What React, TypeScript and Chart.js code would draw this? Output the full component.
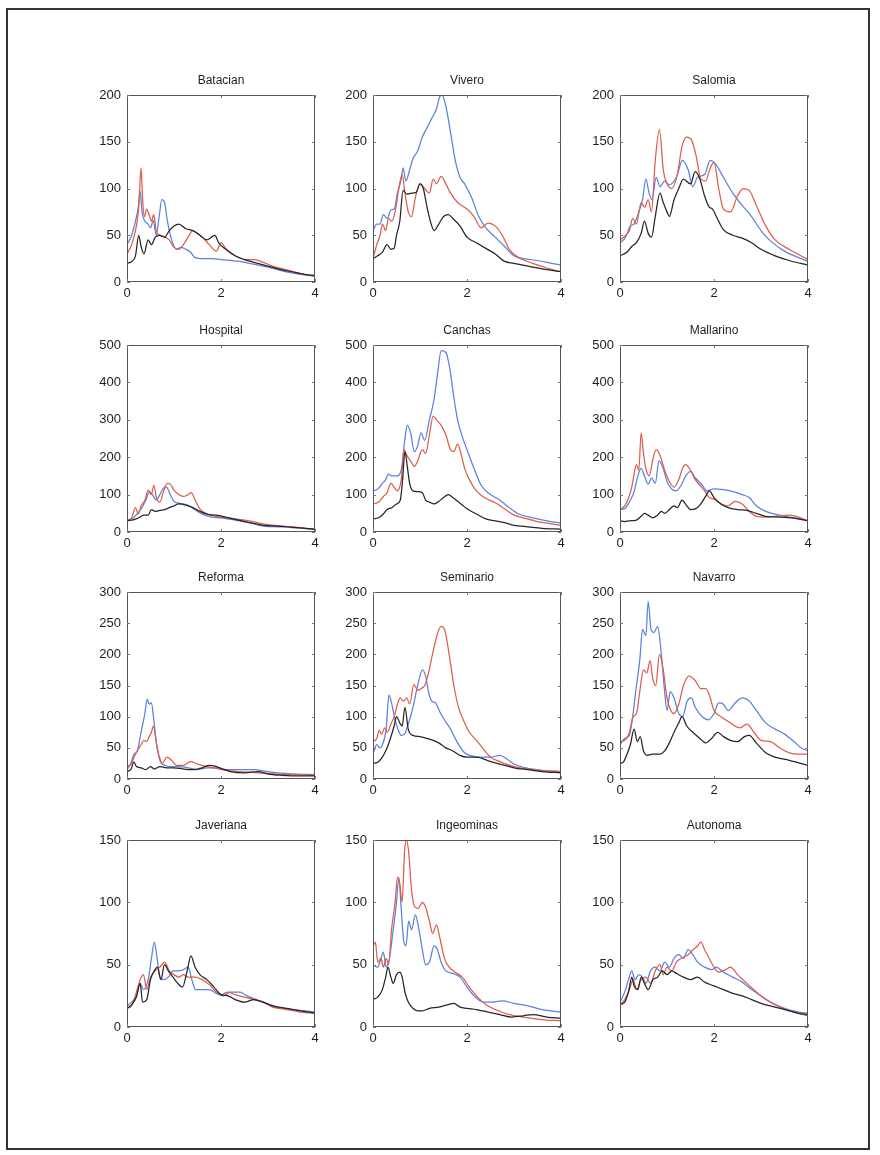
import React, { useEffect, useRef } from "react";
import { Chart, registerables } from "chart.js";
Chart.register(...registerables);

type Pt = [number, number];

const titles = ["Batacian", "Vivero", "Salomia", "Hospital", "Canchas", "Mallarino", "Reforma", "Seminario", "Navarro", "Javeriana", "Ingeominas", "Autonoma"];
const yMaxes = [200, 200, 200, 500, 500, 500, 300, 300, 300, 150, 150, 150];
const ySteps = [50, 50, 50, 100, 100, 100, 50, 50, 50, 50, 50, 50];
const xMin = 0;
const xMax = 4;
const xStep = 2;

// Batacian
const batacianBlack: Pt[] = [[0,20],[0.1,22],[0.18,28],[0.25,50],[0.3,38],[0.36,30],[0.45,45],[0.52,40],[0.6,48],[0.7,50],[0.8,48],[0.9,55],[1.0,60],[1.1,62],[1.25,57],[1.4,55],[1.55,50],[1.7,45],[1.8,48],[1.87,50],[1.95,42],[2.1,35],[2.3,28],[2.5,24],[2.7,21],[3.0,17],[3.3,13],[3.6,10],[3.8,8],[4,7]];
const batacianRed: Pt[] = [[0,30],[0.1,40],[0.2,60],[0.25,80],[0.3,122],[0.33,90],[0.37,70],[0.42,78],[0.47,72],[0.52,65],[0.57,72],[0.62,55],[0.7,50],[0.8,48],[0.9,45],[1.0,37],[1.1,35],[1.2,40],[1.3,48],[1.4,55],[1.5,52],[1.6,48],[1.75,40],[1.9,33],[2.0,42],[2.1,36],[2.3,28],[2.5,24],[2.7,24],[2.85,22],[3.1,17],[3.4,13],[3.7,9],[4,6]];
const batacianBlue: Pt[] = [[0,40],[0.1,50],[0.18,65],[0.24,80],[0.28,97],[0.32,75],[0.38,65],[0.45,62],[0.5,58],[0.56,66],[0.62,50],[0.68,68],[0.74,88],[0.8,85],[0.86,65],[0.95,45],[1.05,35],[1.15,37],[1.25,35],[1.35,32],[1.45,26],[1.6,25],[1.8,25],[2.0,24],[2.2,23],[2.4,22],[2.6,20],[2.8,18],[3.0,16],[3.3,12],[3.6,9],[4,6]];

// Vivero
const viveroBlack: Pt[] = [[0,25],[0.1,28],[0.2,32],[0.3,40],[0.38,35],[0.45,36],[0.5,50],[0.57,65],[0.64,98],[0.72,94],[0.82,95],[0.92,96],[1.0,105],[1.07,100],[1.15,80],[1.22,65],[1.3,55],[1.4,62],[1.5,70],[1.6,72],[1.7,68],[1.85,60],[2.0,48],[2.2,42],[2.4,36],[2.6,30],[2.8,22],[3.0,20],[3.3,17],[3.6,14],[4,11]];
const viveroRed: Pt[] = [[0,25],[0.08,40],[0.15,50],[0.2,62],[0.27,55],[0.33,68],[0.4,65],[0.47,75],[0.55,100],[0.62,115],[0.68,95],[0.75,75],[0.82,70],[0.9,90],[1.0,105],[1.1,100],[1.2,95],[1.28,110],[1.35,105],[1.45,113],[1.55,105],[1.65,95],[1.8,85],[2.0,78],[2.15,70],[2.3,58],[2.45,63],[2.6,60],[2.75,50],[2.9,35],[3.1,26],[3.4,20],[3.7,15],[4,11]];
const viveroBlue: Pt[] = [[0,55],[0.08,62],[0.15,62],[0.22,72],[0.3,68],[0.38,77],[0.45,78],[0.52,95],[0.6,110],[0.64,122],[0.7,108],[0.78,120],[0.85,132],[0.95,140],[1.05,155],[1.15,165],[1.25,175],[1.35,185],[1.42,198],[1.47,200],[1.55,188],[1.65,160],[1.75,130],[1.85,112],[1.95,105],[2.1,90],[2.25,70],[2.4,58],[2.6,48],[2.8,38],[3.0,28],[3.2,25],[3.5,23],[3.8,20],[4,18]];

// Salomia
const salomiaBlack: Pt[] = [[0,28],[0.15,32],[0.25,38],[0.35,42],[0.45,52],[0.52,65],[0.6,52],[0.67,48],[0.75,70],[0.85,95],[0.92,85],[1.0,75],[1.05,70],[1.15,88],[1.25,100],[1.35,110],[1.5,105],[1.6,118],[1.7,110],[1.8,92],[1.9,80],[1.97,78],[2.05,70],[2.2,56],[2.4,50],[2.6,47],[2.8,42],[3.0,35],[3.3,28],[3.6,23],[4,18]];
const salomiaRed: Pt[] = [[0,45],[0.12,50],[0.2,55],[0.27,68],[0.35,62],[0.45,85],[0.52,80],[0.6,88],[0.67,75],[0.75,130],[0.84,163],[0.92,120],[1.0,105],[1.1,100],[1.22,115],[1.32,145],[1.42,155],[1.52,152],[1.62,135],[1.72,110],[1.82,108],[1.92,122],[2.0,128],[2.1,100],[2.2,78],[2.35,75],[2.5,92],[2.62,100],[2.75,98],[2.9,82],[3.1,60],[3.3,45],[3.6,35],[4,24]];
const salomiaBlue: Pt[] = [[0,42],[0.12,48],[0.22,60],[0.3,62],[0.4,75],[0.48,88],[0.55,110],[0.62,95],[0.68,88],[0.77,112],[0.85,102],[0.95,108],[1.05,104],[1.2,112],[1.33,130],[1.45,120],[1.55,102],[1.65,112],[1.8,115],[1.92,130],[2.05,125],[2.2,112],[2.4,95],[2.6,82],[2.8,70],[3.0,55],[3.2,44],[3.5,33],[3.8,26],[4,22]];

// Hospital
const hospitalBlack: Pt[] = [[0,30],[0.15,33],[0.25,38],[0.35,45],[0.45,45],[0.52,60],[0.6,55],[0.7,58],[0.8,60],[0.9,65],[1.0,70],[1.1,75],[1.25,72],[1.4,65],[1.55,55],[1.7,48],[1.9,45],[2.1,40],[2.3,34],[2.6,25],[2.9,18],[3.2,16],[3.5,13],[3.8,10],[4,8]];
const hospitalRed: Pt[] = [[0,30],[0.1,38],[0.18,65],[0.24,48],[0.3,70],[0.38,85],[0.45,112],[0.52,100],[0.57,125],[0.63,90],[0.7,80],[0.78,110],[0.86,130],[0.92,128],[1.0,112],[1.1,100],[1.2,95],[1.3,100],[1.37,105],[1.45,85],[1.55,62],[1.7,48],[1.9,42],[2.1,38],[2.3,35],[2.6,30],[2.9,22],[3.2,17],[3.5,14],[3.8,10],[4,7]];
const hospitalBlue: Pt[] = [[0,32],[0.12,36],[0.22,50],[0.3,62],[0.4,85],[0.48,108],[0.55,98],[0.62,85],[0.7,100],[0.78,118],[0.84,120],[0.92,100],[1.0,82],[1.1,77],[1.2,75],[1.35,68],[1.5,55],[1.65,45],[1.8,40],[2.0,38],[2.3,32],[2.6,25],[2.9,16],[3.2,14],[3.5,12],[3.8,9],[4,7]];

// Canchas
const canchasBlack: Pt[] = [[0,35],[0.12,38],[0.22,48],[0.3,60],[0.4,65],[0.5,75],[0.58,85],[0.63,140],[0.68,215],[0.73,175],[0.78,130],[0.85,110],[0.95,108],[1.05,105],[1.12,85],[1.2,80],[1.3,75],[1.4,82],[1.5,92],[1.6,100],[1.7,92],[1.8,82],[1.9,72],[2.0,62],[2.2,48],[2.4,35],[2.6,30],[2.8,25],[3.0,18],[3.3,14],[3.6,10],[4,8]];
const canchasRed: Pt[] = [[0,75],[0.12,80],[0.22,95],[0.3,105],[0.38,130],[0.45,120],[0.52,110],[0.6,140],[0.66,220],[0.72,205],[0.8,190],[0.88,175],[0.95,190],[1.05,220],[1.12,210],[1.2,260],[1.28,310],[1.35,300],[1.45,285],[1.55,260],[1.65,220],[1.72,215],[1.8,235],[1.88,205],[1.95,170],[2.05,140],[2.2,110],[2.4,90],[2.6,78],[2.8,62],[3.0,45],[3.2,38],[3.5,28],[3.8,22],[4,18]];
const canchasBlue: Pt[] = [[0,110],[0.1,115],[0.2,130],[0.27,140],[0.33,155],[0.4,150],[0.5,150],[0.6,165],[0.67,240],[0.73,285],[0.8,265],[0.88,215],[0.95,230],[1.02,265],[1.1,245],[1.2,300],[1.3,355],[1.38,430],[1.45,485],[1.55,480],[1.63,440],[1.72,360],[1.8,300],[1.9,255],[2.0,220],[2.15,170],[2.3,125],[2.5,100],[2.7,85],[2.9,65],[3.1,48],[3.4,38],[3.7,30],[4,24]];

// Mallarino
const mallarinoBlack: Pt[] = [[0,30],[0.1,28],[0.2,30],[0.35,32],[0.45,42],[0.52,50],[0.6,45],[0.7,38],[0.8,45],[0.88,55],[0.95,50],[1.05,60],[1.15,70],[1.22,65],[1.32,85],[1.42,70],[1.5,60],[1.6,62],[1.7,72],[1.82,95],[1.9,110],[2.0,92],[2.15,75],[2.3,65],[2.5,60],[2.7,58],[2.9,50],[3.1,42],[3.4,40],[3.7,37],[4,30]];
const mallarinoRed: Pt[] = [[0,60],[0.1,70],[0.18,90],[0.25,120],[0.3,155],[0.35,180],[0.4,165],[0.45,265],[0.5,210],[0.55,170],[0.62,150],[0.7,195],[0.77,220],[0.85,205],[0.95,165],[1.05,135],[1.15,120],[1.25,140],[1.33,170],[1.4,180],[1.5,165],[1.6,140],[1.7,125],[1.8,110],[1.9,92],[2.0,88],[2.15,75],[2.3,70],[2.45,82],[2.6,75],[2.75,55],[2.9,42],[3.1,40],[3.3,42],[3.6,45],[3.8,40],[4,30]];
const mallarinoBlue: Pt[] = [[0,60],[0.1,63],[0.2,80],[0.3,108],[0.38,150],[0.45,170],[0.52,150],[0.6,128],[0.67,145],[0.75,130],[0.83,190],[0.92,170],[1.0,135],[1.1,115],[1.2,110],[1.3,125],[1.4,150],[1.5,162],[1.6,145],[1.75,125],[1.85,110],[2.0,115],[2.2,113],[2.4,108],[2.6,100],[2.75,92],[2.9,70],[3.1,55],[3.3,48],[3.6,40],[3.8,36],[4,30]];

// Reforma
const reformaBlack: Pt[] = [[0,12],[0.08,15],[0.15,27],[0.2,20],[0.3,18],[0.4,15],[0.5,20],[0.58,16],[0.7,20],[0.85,18],[1.0,18],[1.2,16],[1.4,15],[1.6,18],[1.75,22],[1.85,21],[2.0,17],[2.2,12],[2.5,10],[2.8,12],[3.0,8],[3.3,6],[3.7,5],[4,5]];
const reformaRed: Pt[] = [[0,20],[0.1,25],[0.15,35],[0.22,45],[0.3,55],[0.36,62],[0.42,60],[0.47,68],[0.52,75],[0.56,85],[0.62,60],[0.68,38],[0.75,25],[0.85,35],[0.95,30],[1.05,22],[1.2,22],[1.35,28],[1.5,24],[1.7,20],[1.9,17],[2.1,14],[2.4,12],[2.8,10],[3.2,8],[3.6,7],[4,6]];
const reformaBlue: Pt[] = [[0,15],[0.08,25],[0.15,40],[0.22,45],[0.3,75],[0.38,105],[0.43,128],[0.47,120],[0.52,122],[0.57,95],[0.63,55],[0.7,30],[0.8,22],[0.95,20],[1.1,20],[1.3,18],[1.5,15],[1.7,18],[1.9,18],[2.1,15],[2.4,15],[2.7,15],[2.9,13],[3.2,10],[3.6,8],[4,7]];

// Seminario
const seminarioBlack: Pt[] = [[0,25],[0.1,27],[0.2,35],[0.3,50],[0.37,65],[0.45,85],[0.5,100],[0.57,90],[0.62,85],[0.68,115],[0.75,80],[0.85,70],[1.0,68],[1.2,64],[1.4,58],[1.55,50],[1.7,45],[1.85,38],[2.0,35],[2.2,35],[2.5,28],[2.8,22],[3.0,18],[3.3,15],[3.6,12],[4,10]];
const seminarioRed: Pt[] = [[0,60],[0.08,65],[0.13,78],[0.18,72],[0.25,82],[0.3,75],[0.38,88],[0.45,100],[0.52,120],[0.58,130],[0.65,125],[0.72,130],[0.78,120],[0.87,152],[0.95,142],[1.02,145],[1.1,150],[1.18,170],[1.28,205],[1.38,235],[1.45,245],[1.53,238],[1.62,200],[1.72,150],[1.82,115],[1.92,95],[2.05,75],[2.2,62],[2.35,48],[2.5,35],[2.7,28],[3.0,20],[3.3,16],[3.7,13],[4,12]];
const seminarioBlue: Pt[] = [[0,40],[0.08,55],[0.15,50],[0.2,55],[0.28,80],[0.34,135],[0.4,120],[0.47,95],[0.53,80],[0.6,70],[0.67,72],[0.75,88],[0.85,115],[0.95,150],[1.05,175],[1.12,165],[1.18,140],[1.25,125],[1.33,122],[1.42,108],[1.52,95],[1.65,80],[1.8,58],[1.95,42],[2.1,37],[2.3,35],[2.5,35],[2.7,38],[2.85,32],[3.0,24],[3.3,17],[3.6,14],[4,12]];

// Navarro
const navarroBlack: Pt[] = [[0,25],[0.08,28],[0.15,40],[0.22,55],[0.3,80],[0.37,60],[0.43,68],[0.5,45],[0.58,38],[0.7,40],[0.85,40],[0.95,45],[1.05,58],[1.15,75],[1.25,90],[1.32,100],[1.42,85],[1.55,75],[1.7,65],[1.82,58],[1.95,65],[2.08,75],[2.2,68],[2.35,62],[2.5,60],[2.65,68],[2.75,70],[2.9,58],[3.1,42],[3.3,35],[3.6,30],[3.8,26],[4,22]];
const navarroRed: Pt[] = [[0,60],[0.1,62],[0.2,75],[0.28,100],[0.35,105],[0.42,140],[0.5,175],[0.57,170],[0.64,190],[0.7,160],[0.76,150],[0.84,200],[0.92,175],[1.0,130],[1.08,110],[1.15,105],[1.25,120],[1.35,150],[1.47,165],[1.6,158],[1.72,145],[1.82,145],[1.9,135],[2.0,110],[2.15,100],[2.35,90],[2.55,82],[2.7,88],[2.85,75],[3.0,62],[3.2,60],[3.4,50],[3.6,42],[3.8,40],[4,40]];
const navarroBlue: Pt[] = [[0,55],[0.1,65],[0.2,70],[0.27,100],[0.35,150],[0.42,190],[0.48,240],[0.55,230],[0.6,285],[0.66,240],[0.72,235],[0.8,245],[0.88,200],[0.95,140],[1.0,110],[1.07,140],[1.15,130],[1.25,105],[1.33,100],[1.43,125],[1.52,130],[1.6,115],[1.75,100],[1.88,95],[2.0,105],[2.1,122],[2.2,120],[2.3,110],[2.45,122],[2.6,130],[2.75,125],[2.9,110],[3.1,90],[3.3,80],[3.5,72],[3.7,60],[3.85,50],[4,45]];

// Javeriana
const javerianaBlack: Pt[] = [[0,15],[0.1,18],[0.2,24],[0.28,35],[0.33,20],[0.42,22],[0.5,38],[0.58,45],[0.65,48],[0.72,38],[0.8,50],[0.88,45],[0.98,40],[1.08,35],[1.18,32],[1.28,45],[1.36,57],[1.45,48],[1.55,42],[1.7,38],[1.85,32],[2.0,26],[2.15,25],[2.3,22],[2.5,20],[2.7,22],[2.9,20],[3.1,17],[3.4,15],[3.7,13],[4,11]];
const javerianaRed: Pt[] = [[0,15],[0.1,17],[0.2,28],[0.28,38],[0.35,42],[0.42,30],[0.5,40],[0.6,45],[0.7,48],[0.8,52],[0.9,45],[1.0,42],[1.1,40],[1.2,42],[1.3,40],[1.45,40],[1.6,38],[1.75,34],[1.9,28],[2.0,26],[2.15,28],[2.3,26],[2.5,24],[2.7,22],[2.9,20],[3.1,16],[3.4,14],[3.7,12],[4,11]];
const javerianaBlue: Pt[] = [[0,17],[0.1,20],[0.2,25],[0.28,35],[0.35,30],[0.45,38],[0.52,55],[0.58,68],[0.63,58],[0.7,40],[0.78,38],[0.88,40],[0.98,45],[1.08,45],[1.2,46],[1.3,48],[1.38,38],[1.46,30],[1.58,30],[1.75,30],[1.9,27],[2.05,25],[2.2,28],[2.4,28],[2.55,25],[2.75,22],[2.95,19],[3.2,16],[3.5,14],[3.8,13],[4,12]];

// Ingeominas
const ingeominasBlack: Pt[] = [[0,22],[0.1,24],[0.2,30],[0.27,40],[0.32,48],[0.38,40],[0.43,35],[0.5,42],[0.57,44],[0.62,40],[0.68,28],[0.75,20],[0.85,15],[0.95,13],[1.05,13],[1.2,15],[1.4,16],[1.6,18],[1.72,19],[1.85,16],[2.0,15],[2.2,14],[2.45,12],[2.7,10],[2.95,8],[3.2,9],[3.4,10],[3.7,8],[4,7]];
const ingeominasRed: Pt[] = [[0,65],[0.05,68],[0.1,52],[0.17,55],[0.22,48],[0.28,55],[0.33,50],[0.4,80],[0.47,100],[0.52,120],[0.57,115],[0.62,100],[0.67,140],[0.71,150],[0.76,140],[0.82,110],[0.88,97],[0.96,95],[1.05,100],[1.12,96],[1.2,85],[1.27,75],[1.35,82],[1.42,72],[1.52,55],[1.62,48],[1.75,44],[1.9,40],[2.05,32],[2.2,25],[2.4,18],[2.6,14],[2.9,10],[3.2,8],[3.6,6],[4,5]];
const ingeominasBlue: Pt[] = [[0,50],[0.1,48],[0.17,55],[0.22,60],[0.28,48],[0.35,55],[0.42,75],[0.5,100],[0.55,120],[0.6,95],[0.65,70],[0.7,65],[0.76,85],[0.82,78],[0.9,90],[0.97,80],[1.05,62],[1.12,50],[1.2,52],[1.3,65],[1.37,62],[1.45,52],[1.55,45],[1.7,43],[1.85,40],[2.0,32],[2.15,25],[2.35,20],[2.55,20],[2.75,21],[3.0,19],[3.3,17],[3.6,14],[4,12]];

// Autonoma
const autonomaBlack: Pt[] = [[0,18],[0.1,20],[0.18,28],[0.25,40],[0.3,33],[0.38,30],[0.45,40],[0.52,35],[0.6,30],[0.7,38],[0.8,40],[0.9,45],[1.0,42],[1.1,45],[1.2,43],[1.35,40],[1.5,38],[1.65,40],[1.8,36],[2.0,33],[2.2,30],[2.4,27],[2.6,25],[2.8,22],[3.0,19],[3.3,16],[3.6,13],[3.8,11],[4,10]];
const autonomaRed: Pt[] = [[0,18],[0.1,22],[0.2,30],[0.28,38],[0.35,30],[0.45,38],[0.55,40],[0.65,35],[0.75,45],[0.85,50],[0.92,42],[1.0,48],[1.1,45],[1.2,52],[1.3,55],[1.45,58],[1.55,62],[1.65,65],[1.72,68],[1.8,62],[1.9,55],[2.0,48],[2.1,44],[2.25,46],[2.35,48],[2.5,42],[2.7,35],[2.9,28],[3.1,22],[3.4,16],[3.7,12],[4,9]];
const autonomaBlue: Pt[] = [[0,20],[0.1,28],[0.18,38],[0.25,45],[0.32,38],[0.4,42],[0.48,40],[0.55,35],[0.65,45],[0.75,48],[0.85,45],[0.95,52],[1.05,48],[1.15,55],[1.25,58],[1.35,55],[1.45,62],[1.55,58],[1.65,52],[1.8,48],[1.95,46],[2.05,48],[2.2,44],[2.4,40],[2.6,36],[2.8,30],[3.0,25],[3.2,20],[3.5,15],[3.8,12],[4,11]];

const blackSeries = [batacianBlack, viveroBlack, salomiaBlack, hospitalBlack, canchasBlack, mallarinoBlack, reformaBlack, seminarioBlack, navarroBlack, javerianaBlack, ingeominasBlack, autonomaBlack];
const redSeries = [batacianRed, viveroRed, salomiaRed, hospitalRed, canchasRed, mallarinoRed, reformaRed, seminarioRed, navarroRed, javerianaRed, ingeominasRed, autonomaRed];
const blueSeries = [batacianBlue, viveroBlue, salomiaBlue, hospitalBlue, canchasBlue, mallarinoBlue, reformaBlue, seminarioBlue, navarroBlue, javerianaBlue, ingeominasBlue, autonomaBlue];

const COL_LEFT = [127, 373, 620];
const ROW_TOP = [95, 345, 592, 840];
const PLOT_W = 188;
const PLOT_H = 187;
const AXIS_W = 42;
const TITLE_H = 24;
const XAXIS_H = 24;
const RIGHT_PAD = 14;
const CW = AXIS_W + PLOT_W + RIGHT_PAD;
const CH = TITLE_H + PLOT_H + XAXIS_H;

const FONT = "'Liberation Sans', Arial, Helvetica, sans-serif";
const TEXT = "#1e1e1e";
const C_BLACK = "#262626";
const C_RED = "#de5d4b";
const C_BLUE = "#5a82de";

const framePlugin = {
  id: "frameBox",
  afterDatasetsDraw(chart: any) {
    const { ctx, chartArea } = chart;
    const { left, top, right, bottom } = chartArea;
    const xs = chart.scales.x;
    const ys = chart.scales.y;
    ctx.save();
    ctx.strokeStyle = "#555";
    ctx.lineWidth = 1;
    ctx.strokeRect(Math.round(left) + 0.5, Math.round(top) + 0.5, Math.round(right - left) - 1, Math.round(bottom - top) - 1);
    ctx.strokeStyle = "#777";
    ctx.beginPath();
    const tl = 3;
    xs.ticks.forEach((t: any) => {
      const px = Math.round(xs.getPixelForValue(t.value)) + 0.5;
      ctx.moveTo(px, bottom); ctx.lineTo(px, bottom - tl);
      ctx.moveTo(px, top); ctx.lineTo(px, top + tl);
    });
    ys.ticks.forEach((t: any) => {
      const py = Math.round(ys.getPixelForValue(t.value)) + 0.5;
      ctx.moveTo(left, py); ctx.lineTo(left + tl, py);
      ctx.moveTo(right, py); ctx.lineTo(right - tl, py);
    });
    ctx.stroke();
    ctx.restore();
  },
};

const toXY = (s: Pt[]) => s.map(([x, y]) => ({ x, y }));

function Panel({ idx }: { idx: number }) {
  const ref = useRef<HTMLCanvasElement>(null);
  const col = idx % 3;
  const row = Math.floor(idx / 3);
  const left = COL_LEFT[col] - AXIS_W;
  const top = ROW_TOP[row] - TITLE_H;
  useEffect(() => {
    const mk = (data: Pt[], color: string) => ({
      data: toXY(data),
      borderColor: color,
      backgroundColor: color,
      borderWidth: 1.25,
      pointRadius: 0,
      fill: false,
      tension: 0,
      cubicInterpolationMode: "monotone" as const,
    });
    const chart = new Chart(ref.current as HTMLCanvasElement, {
      type: "line",
      data: {
        datasets: [
          mk(blackSeries[idx], C_BLACK),
          mk(redSeries[idx], C_RED),
          mk(blueSeries[idx], C_BLUE),
        ],
      },
      options: {
        responsive: false,
        animation: false,
        devicePixelRatio: 1,
        layout: { padding: { top: 0, right: RIGHT_PAD, bottom: 0, left: 0 } },
        plugins: {
          legend: { display: false },
          tooltip: { enabled: false },
          title: {
            display: true,
            fullSize: false,
            text: titles[idx],
            color: TEXT,
            font: { family: FONT, size: 12, weight: "normal", lineHeight: 1 },
            padding: { top: 4, bottom: 8 },
          },
        },
        scales: {
          x: {
            type: "linear",
            min: xMin,
            max: xMax,
            ticks: { stepSize: xStep, color: TEXT, font: { family: FONT, size: 13 }, padding: 4, maxRotation: 0, autoSkip: false },
            grid: { display: false, drawTicks: false },
            border: { display: false },
            afterFit: (s: any) => { s.height = XAXIS_H; },
          },
          y: {
            type: "linear",
            min: 0,
            max: yMaxes[idx],
            ticks: { stepSize: ySteps[idx], color: TEXT, font: { family: FONT, size: 13 }, padding: 6 },
            grid: { display: false, drawTicks: false },
            border: { display: false },
            afterFit: (s: any) => { s.width = AXIS_W; },
          },
        },
      },
      plugins: [framePlugin],
    } as any);
    return () => chart.destroy();
  }, [idx]);
  return (
    <canvas
      ref={ref}
      width={CW}
      height={CH}
      style={{ position: "absolute", left, top, width: CW, height: CH }}
    />
  );
}

export default function App() {
  return (
    <div style={{ position: "absolute", left: 0, top: 0, width: 880, height: 1155, background: "#fff", overflow: "hidden" }}>
      <div style={{ position: "absolute", left: 6, top: 8, width: 860, height: 1138, border: "2px solid #333", boxSizing: "content-box" }} />
      {titles.map((_, i) => (
        <Panel key={i} idx={i} />
      ))}
    </div>
  );
}
